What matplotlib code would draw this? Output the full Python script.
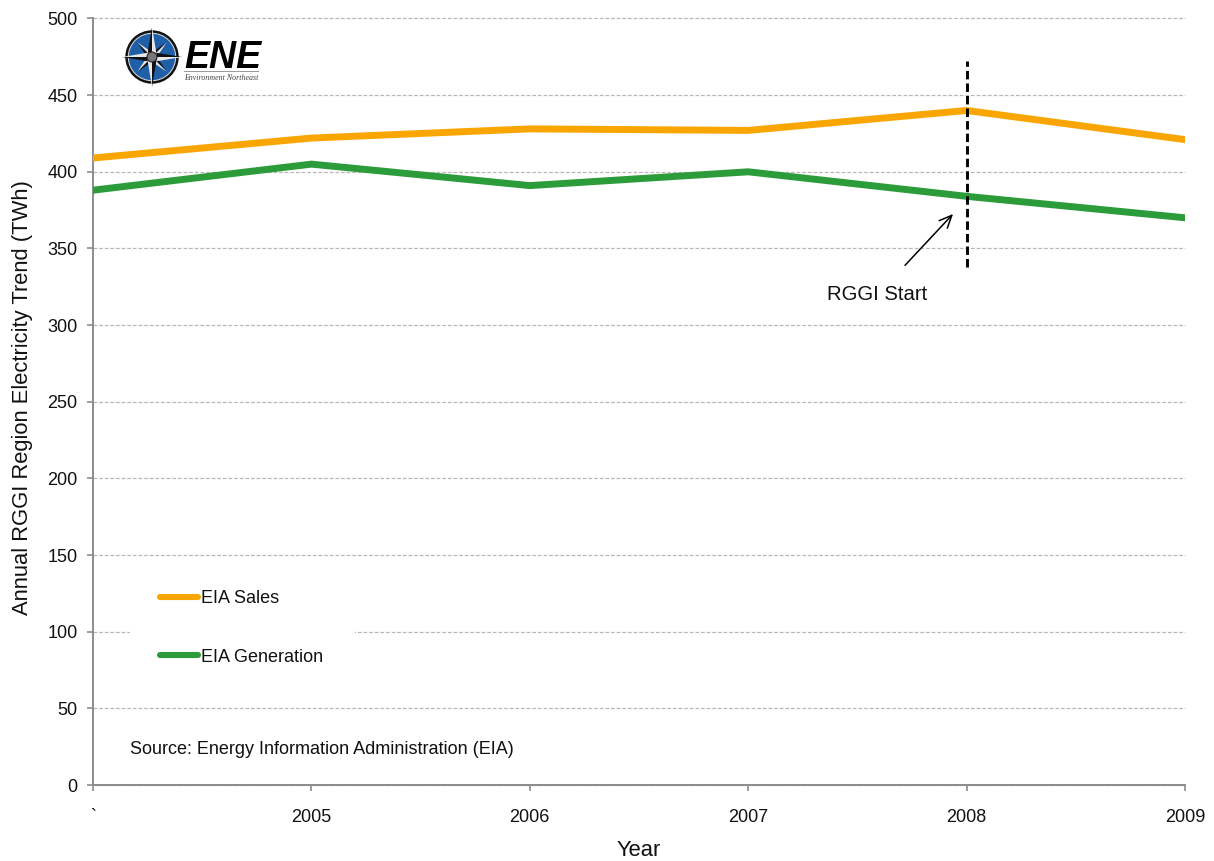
import numpy as np
import matplotlib
matplotlib.use("Agg")
import matplotlib.pyplot as plt
from matplotlib.patches import Circle, Polygon, Rectangle

plt.rcParams['font.family'] = ['Liberation Sans', 'DejaVu Sans']

years = [2004, 2005, 2006, 2007, 2008, 2009]
year_labels = ['`', '2005', '2006', '2007', '2008', '2009']
eia_sales = [409, 422, 428, 427, 440, 421]
eia_generation = [388, 405, 391, 400, 384, 370]
y_ticks = [0, 50, 100, 150, 200, 250, 300, 350, 400, 450, 500]
rggi_year = 2008
rggi_span = [338, 472]

ORANGE = '#F9A602'
GREEN = '#2C9C3B'
AXIS = '#8C8C8C'
W, H = 1214, 861

fig = plt.figure(figsize=(W / 100, H / 100), dpi=100)
ax = fig.add_axes([93 / W, 1 - 785 / H, (1185 - 93) / W, (785 - 18.5) / H])
ax.set_xlim(years[0], years[-1])
ax.set_ylim(0, 500)

ax.set_yticks(y_ticks)
ax.set_xticks(years)
ax.set_xticklabels(year_labels)
ax.tick_params(axis='both', color=AXIS, width=1.2, length=4, labelsize=13, labelcolor='#111111')
ax.tick_params(axis='x', pad=13)
ax.tick_params(axis='y', pad=7)
for side in ('top', 'right'):
    ax.spines[side].set_visible(False)
for side in ('left', 'bottom'):
    ax.spines[side].set_color(AXIS)
    ax.spines[side].set_linewidth(1.4)
ax.set_axisbelow(True)
ax.grid(axis='y', color='#B8B8B8', linestyle=(0, (3, 1.5)), linewidth=0.9, clip_on=False)

ax.set_ylabel('Annual RGGI Region Electricity Trend (TWh)', fontsize=15.8, color='#111111')
ax.yaxis.set_label_coords((33 - 93) / (1185 - 93), (785 - 398) / (785 - 18.5))
ax.set_xlabel('Year', fontsize=15.8, color='#111111')
ax.xaxis.set_label_coords((639 - 93) / (1185 - 93), (785 - 850) / (785 - 18.5))
ax.xaxis.label.set_verticalalignment('center')

ax.plot(years, eia_sales, color=ORANGE, lw=5, solid_joinstyle='miter', label='EIA Sales', zorder=3)
ax.plot(years, eia_generation, color=GREEN, lw=5, solid_joinstyle='miter', label='EIA Generation', zorder=3)

# RGGI start marker and its pointer
ax.plot([rggi_year, rggi_year], rggi_span, color='black', lw=2.1,
        linestyle=(0, (2.9, 1.4)), zorder=4)
ax.annotate('', xy=(2007.938, 372.5), xytext=(2007.718, 339),
            arrowprops=dict(arrowstyle='->,head_width=0.4,head_length=0.9', color='black',
                            lw=1.1, shrinkA=0, shrinkB=0), zorder=4)
ax.text(2007.59, 320, 'RGGI Start', fontsize=14.6, color='#111111', ha='center', va='center')

# White panel behind the legend interrupts the gridline
ax.add_patch(Rectangle(((130 - 93) / 1092, (785 - 670) / 766.5), 225 / 1092, 70 / 766.5,
                       transform=ax.transAxes, facecolor='white', edgecolor='none', zorder=1.5))
leg = ax.legend(loc='upper left', bbox_to_anchor=((160 - 93) / 1092, (785 - 590) / 766.5),
                frameon=False, fontsize=13, handlelength=2.1, handletextpad=0.17,
                borderaxespad=0, borderpad=0, labelspacing=2.3, labelcolor='#111111')
for handle in leg.get_lines():
    handle.set_solid_capstyle('round')
    handle.set_linewidth(4.4)

ax.text((130 - 93) / 1092, (785 - 749.5) / 766.5, 'Source: Energy Information Administration (EIA)',
        transform=ax.transAxes, fontsize=13, color='#111111', va='center')

# Environment Northeast logo, laid out in pixel coordinates
logo = fig.add_axes([122 / W, 1 - 88 / H, 142 / W, 60 / H])
logo.set_xlim(122, 264)
logo.set_ylim(88, 28)
logo.axis('off')
cx, cy = 152, 57
logo.add_patch(Circle((cx, cy), 26, color='#111111', zorder=1))
logo.add_patch(Circle((cx, cy), 23.5, color='#DDDDDD', zorder=2))
logo.add_patch(Circle((cx, cy), 22.5, color='#1F5FA8', zorder=3))


def spike(angle, length, half_width, dark, side):
    a = np.radians(angle)
    tip = (cx + length * np.cos(a), cy - length * np.sin(a))
    b = a + side * np.pi / 2
    base = (cx + half_width * np.cos(b), cy - half_width * np.sin(b))
    logo.add_patch(Polygon([(cx, cy), tip, base], closed=True,
                           color='#111111' if dark else '#E8E8E8', lw=0, zorder=5 if length > 25 else 4))


for k in range(8):
    long_arm = k % 2 == 0
    for side, dark in ((1, True), (-1, False)):
        spike(k * 45, 30 if long_arm else 21, 5 if long_arm else 4, dark, side)
logo.add_patch(Circle((cx, cy), 5, facecolor='#777777', edgecolor='#222222', lw=0.8, zorder=6))
logo.text(184, 58.5, 'ENE', fontsize=27, fontweight='bold', fontstyle='italic', color='black',
          ha='left', va='center', zorder=6)
logo.plot([184, 258], [70.7, 70.7], color='#999999', lw=0.7)
logo.text(184, 77.5, 'Environment Northeast', family='Liberation Serif', fontstyle='italic',
          fontsize=5.7, color='#444444', ha='left', va='center')

fig.savefig('out.png', dpi=100, facecolor='white')
